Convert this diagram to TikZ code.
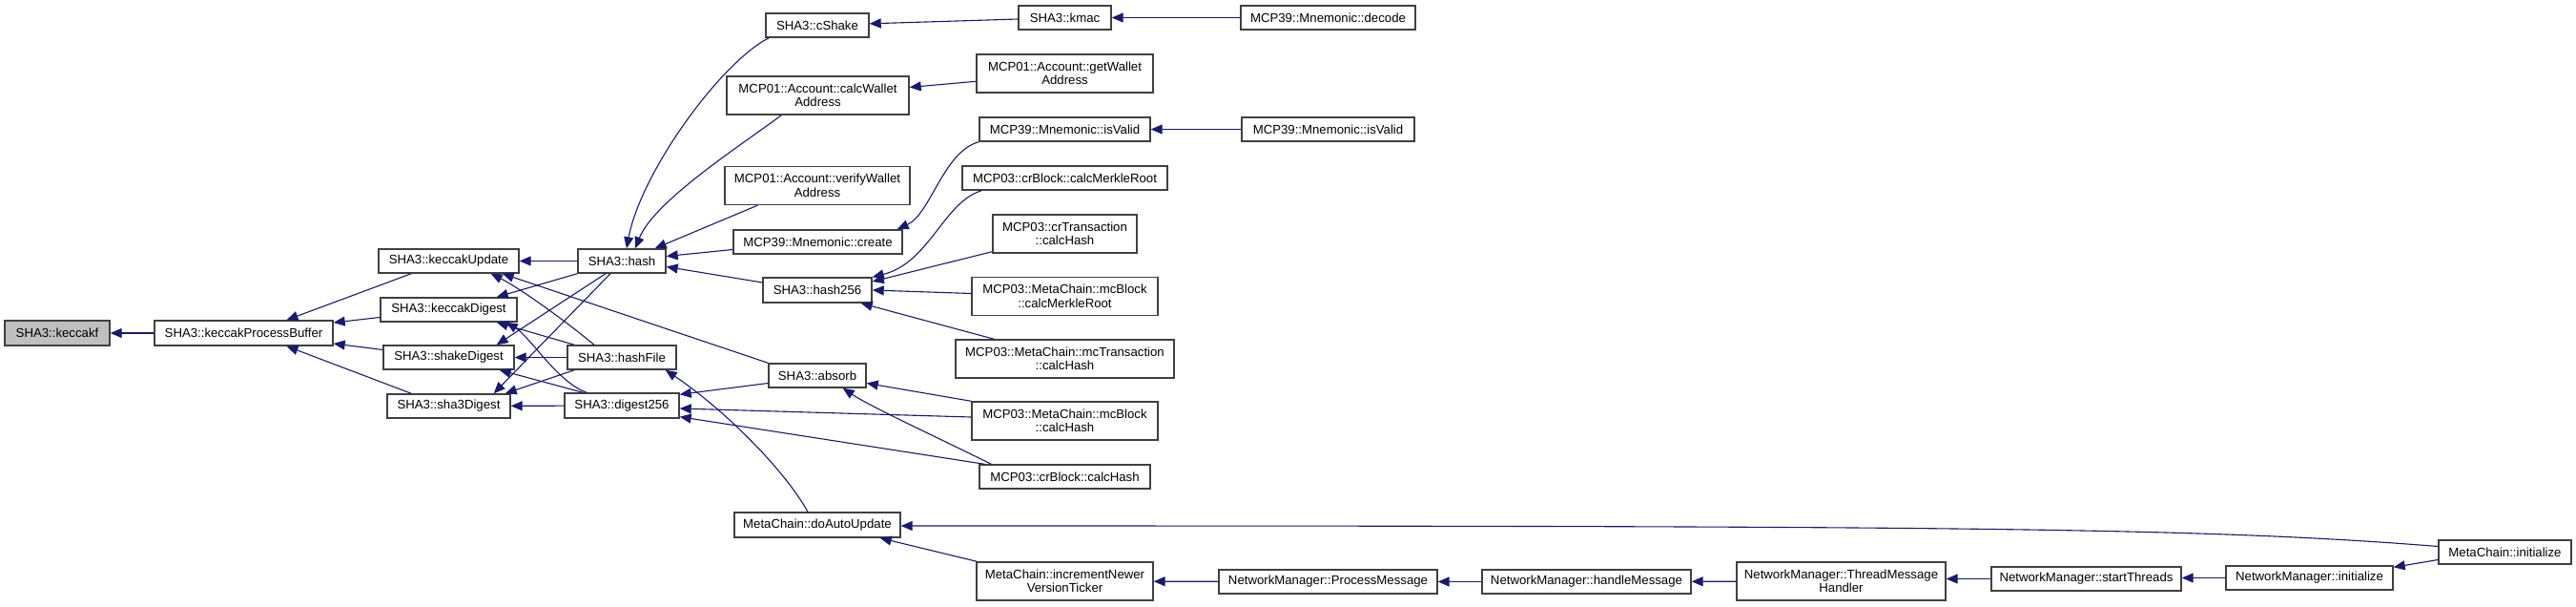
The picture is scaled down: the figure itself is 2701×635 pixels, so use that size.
\documentclass[tikz,border=0pt]{standalone}
\usepackage{fontspec}
\setmainfont{Liberation Sans}
\usetikzlibrary{arrows.meta,calc}
\definecolor{edgec}{HTML}{191970}
\definecolor{boxc}{HTML}{404040}
\definecolor{curc}{HTML}{BFBFBF}
\begin{document}
\begin{tikzpicture}[x=1pt,y=-1pt,
  fn/.style={draw=boxc, line width=1.4pt, fill=white, inner sep=0pt, align=center,
    font=\fontsize{13.2}{14.5}\selectfont, text=black},
  bx/.style n args={2}{fn, minimum width=#1pt, minimum height=#2pt},
  edge/.style={draw=edgec, line width=1.1pt, -{Triangle[length=12pt,width=10pt]}}
]
\useasboundingbox (0,0) rectangle (2701,635);
% nodes
\node[bx={110}{26}, fill=curc] (keccakf) at (60,349) {SHA3::keccakf};
\node[bx={187}{26}] (kpb) at (255.5,349) {SHA3::keccakProcessBuffer};
\node[bx={147}{25}] (kupd) at (470.5,273.5) {SHA3::keccakUpdate};
\node[bx={143}{25}] (kdig) at (470.5,324.5) {SHA3::keccakDigest};
\node[bx={137}{25}] (shake) at (470.5,374.5) {SHA3::shakeDigest};
\node[bx={129}{25}] (sha3d) at (470.5,425.5) {SHA3::sha3Digest};
\node[bx={92}{25}] (hash) at (652,273.5) {SHA3::hash};
\node[bx={114}{25}] (hashFile) at (652,374.5) {SHA3::hashFile};
\node[bx={120}{26}] (digest256) at (652,425) {SHA3::digest256};
\node[bx={108}{25}] (cShake) at (857,26.5) {SHA3::cShake};
\node[bx={97}{25}] (kmac) at (1116.5,18.5) {SHA3::kmac};
\node[bx={183}{25}] (decode) at (1392.5,18.5) {MCP39::Mnemonic::decode};
\node[bx={191}{40}] (calcWA) at (857.5,100) {MCP01::Account::calcWallet\\Address};
\node[bx={185}{40}] (getWA) at (1116.5,77) {MCP01::Account::getWallet\\Address};
\node[bx={194}{40}] (verifyWA) at (857,194.5) {MCP01::Account::verifyWallet\\Address};
\node[bx={179}{25}] (isValid1) at (1116.5,135.5) {MCP39::Mnemonic::isValid};
\node[bx={181}{25}] (isValid2) at (1392.5,135.5) {MCP39::Mnemonic::isValid};
\node[bx={215}{25}] (crMerkle) at (1116.5,186.5) {MCP03::crBlock::calcMerkleRoot};
\node[bx={151}{40}] (crTxHash) at (1116.5,245) {MCP03::crTransaction\\::calcHash};
\node[bx={177}{25}] (create) at (857.5,253.5) {MCP39::Mnemonic::create};
\node[bx={114}{26}] (hash256) at (857,304) {SHA3::hash256};
\node[bx={195}{40}] (mcMerkle) at (1116.5,310.5) {MCP03::MetaChain::mcBlock\\::calcMerkleRoot};
\node[bx={229}{40}] (mcTxHash) at (1116.5,376) {MCP03::MetaChain::mcTransaction\\::calcHash};
\node[bx={102}{25}] (absorb) at (857,393.5) {SHA3::absorb};
\node[bx={195}{40}] (mcBlockHash) at (1116.5,441) {MCP03::MetaChain::mcBlock\\::calcHash};
\node[bx={179}{25}] (crBlockHash) at (1116.5,499.5) {MCP03::crBlock::calcHash};
\node[bx={174}{26}] (doAuto) at (857,550) {MetaChain::doAutoUpdate};
\node[bx={185}{40}] (incr) at (1116.5,609) {MetaChain::incrementNewer\\VersionTicker};
\node[bx={229}{25}] (procMsg) at (1392.5,609.5) {NetworkManager::ProcessMessage};
\node[bx={219}{25}] (handleMsg) at (1663.5,609.5) {NetworkManager::handleMessage};
\node[bx={219}{40}] (threadMH) at (1930.5,609) {NetworkManager::ThreadMessage\\Handler};
\node[bx={199}{25}] (startThreads) at (2187.5,606.5) {NetworkManager::startThreads};
\node[bx={175}{25}] (nmInit) at (2421.5,605.5) {NetworkManager::initialize};
\node[bx={139}{25}] (mcInit) at (2626.5,578.5) {MetaChain::initialize};
% edges (caller -> callee)
\draw[edge] (kpb) -- (keccakf);
\draw[edge] ($(kupd.south west)+(35,0)$) -- ($(kpb.north)+(45,0)$);
\draw[edge] ($(kdig.west)+(0,8)$) -- ($(kpb.east)+(0,-11)$);
\draw[edge] ($(shake.west)+(0,-8)$) -- ($(kpb.east)+(0,11)$);
\draw[edge] ($(sha3d.north west)+(26,0)$) -- ($(kpb.south)+(45,0)$);
\draw[edge] (hash) -- (kupd);
\draw[edge] (hash.south west) -- ($(kdig.north east)+(-22,0)$);
\draw[edge] ($(hash.south)+(-17,0)$) -- ($(shake.north east)+(-19,0)$);
\draw[edge] ($(hash.south)+(-12,0)$) -- ($(sha3d.north east)+(-18,0)$);
\draw[edge] ($(hashFile.north)+(-29,0)$) .. controls +(-30,-25) and +(30,15) .. ($(kupd.south east)+(-30,0)$);
\draw[edge] (absorb.north west) -- ($(kupd.south east)+(-18,0)$);
\draw[edge] ($(hashFile.north west)+(8,0)$) -- ($(kdig.south east)+(-22,0)$);
\draw[edge] ($(digest256.north west)+(24,0)$) .. controls +(-30,-10) and +(25,15) .. ($(kdig.south east)+(-12,0)$);
\draw[edge] (hashFile) -- (shake);
\draw[edge] ($(digest256.north west)+(20,0)$) -- ($(shake.south east)+(-16,0)$);
\draw[edge] ($(hashFile.south west)+(8,0)$) -- ($(sha3d.north east)+(-6,0)$);
\draw[edge] (digest256) -- (sha3d);
\draw[edge] ($(cShake.south west)+(4,0)$) .. controls +(-50,25) and +(15,-80) .. ($(hash.north)+(5,0)$);
\draw[edge] ($(calcWA.south west)+(58,0)$) .. controls +(-40,30) and +(20,-50) .. ($(hash.north)+(14,0)$);
\draw[edge] ($(verifyWA.south west)+(35,0)$) -- ($(hash.north east)+(-12,0)$);
\draw[edge] ($(create.west)+(0,8)$) -- ($(hash.east)+(0,-5)$);
\draw[edge] ($(hash256.west)+(0,-8)$) -- ($(hash.east)+(0,6)$);
\draw[edge] (kmac) -- (cShake);
\draw[edge] (decode) -- (kmac);
\draw[edge] (getWA) -- (calcWA);
\draw[edge] (isValid2) -- (isValid1);
\draw[edge] (isValid1.south west) .. controls +(-37,10) and +(35,-16) .. ($(create.north east)+(-6,0)$);
\draw[edge] ($(crMerkle.south west)+(21,0)$) .. controls +(-40,12) and +(60,-15) .. (hash256.north east);
\draw[edge] ($(crTxHash.south west)+(0,-2)$) -- ($(hash256.east)+(0,-9)$);
\draw[edge] ($(mcMerkle.west)+(0,-3)$) -- (hash256.east);
\draw[edge] ($(mcTxHash.north west)+(41,0)$) -- ($(hash256.south east)+(-12,0)$);
\draw[edge] (mcBlockHash.north west) -- ($(absorb.east)+(0,8)$);
\draw[edge] ($(crBlockHash.north west)+(13,0)$) .. controls +(-50,-25) and +(30,20) .. ($(absorb.south east)+(-25,0)$);
\draw[edge] ($(mcBlockHash.west)+(0,-4)$) -- ($(digest256.east)+(0,3)$);
\draw[edge] ($(crBlockHash.north west)+(6,0)$) -- ($(digest256.south east)+(0,-2)$);
\draw[edge] ($(absorb.west)+(0,8)$) -- ($(digest256.north east)+(0,2)$);
\draw[edge] ($(doAuto.north)+(-10,0)$) .. controls +(-25,-45) and +(60,40) .. ($(hashFile.south east)+(-12,0)$);
\draw[edge] ($(mcInit.west)+(0,-6)$) .. controls +(-250,-20) and +(1100,0) .. ($(doAuto.east)+(0,1)$);
\draw[edge] ($(incr.north west)+(1,0)$) -- ($(doAuto.south east)+(-22,0)$);
\draw[edge] (procMsg) -- (incr);
\draw[edge] (handleMsg) -- (procMsg);
\draw[edge] (threadMH) -- (handleMsg);
\draw[edge] (startThreads.west) -- (startThreads.west -| threadMH.east);
\draw[edge] (nmInit.west) -- (nmInit.west -| startThreads.east);
\draw[edge] ($(mcInit.west)+(0,8)$) -- ($(nmInit.north east)+(0,2)$);
\end{tikzpicture}
\end{document}
